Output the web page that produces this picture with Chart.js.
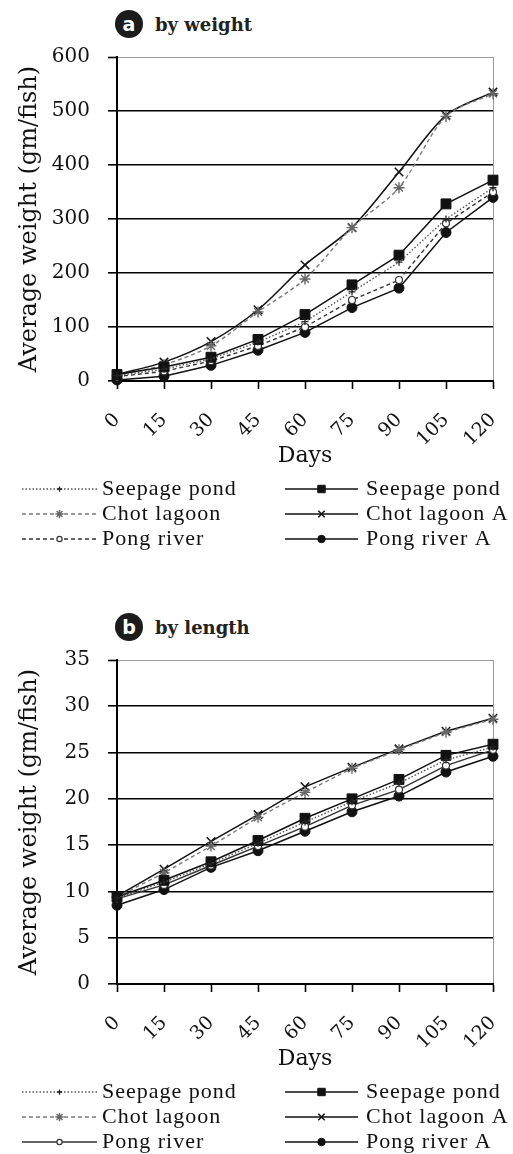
<!DOCTYPE html>
<html>
<head>
<meta charset="utf-8">
<script src="https://cdn.jsdelivr.net/npm/chart.js@4.4.1/dist/chart.umd.min.js"></script>
<style>
  html, body { margin: 0; padding: 0; background: #fff; }
  body { width: 513px; height: 1154px; position: relative; overflow: hidden; }
  .panel { position: absolute; left: 0; width: 513px; }
  .heading {
    position: absolute; left: 115px; height: 28px;
    display: flex; align-items: center;
    font: bold 18px "DejaVu Serif"; color: #222;
  }
  .badge {
    width: 28px; height: 28px; border-radius: 50%;
    background: #1c1c1c; color: #fff; margin-right: 12px;
    display: flex; align-items: center; justify-content: center;
    font: bold 19px "DejaVu Sans"; line-height: 1;
  }
</style>
</head>
<body>
  <div class="heading" style="top:10px"><span class="badge">a</span>by weight</div>
  <div class="panel" style="top:0; height:560px"><canvas id="chart-weight" width="513" height="560"></canvas></div>

  <div class="heading" style="top:613px"><span class="badge">b</span>by length</div>
  <div class="panel" style="top:603px; height:551px"><canvas id="chart-length" width="513" height="551"></canvas></div>

<script>
const days = ["0", "15", "30", "45", "60", "75", "90", "105", "120"];
const legendLabels = ["Seepage pond", "Seepage pond", "Chot lagoon", "Chot lagoon A", "Pong river", "Pong river A"];

// (a) by weight
const weightTicks = [0, 100, 200, 300, 400, 500, 600];
const seepageW  = [10, 22, 41, 72, 110, 165, 220, 300, 358];
const seepageAW = [12, 26, 44, 77, 123, 178, 233, 328, 372];
const chotW     = [10, 30, 65, 128, 189, 284, 358, 490, 532];
const chotAW    = [12, 35, 73, 132, 215, 284, 387, 492, 535];
const pongW     = [8, 18, 37, 65, 100, 150, 187, 292, 350];
const pongAW    = [2, 9, 29, 57, 90, 136, 172, 275, 340];

// (b) by length
const lengthTicks = [0, 5, 10, 15, 20, 25, 30, 35];
const seepageL  = [9.3, 11.0, 13.0, 15.2, 17.5, 19.7, 21.7, 24.2, 25.6];
const seepageAL = [9.4, 11.2, 13.2, 15.5, 17.9, 20.0, 22.1, 24.7, 25.9];
const chotL     = [9.4, 12.0, 14.9, 18.0, 20.7, 23.3, 25.3, 27.2, 28.6];
const chotAL    = [9.5, 12.4, 15.4, 18.3, 21.3, 23.4, 25.4, 27.3, 28.7];
const pongL     = [9.2, 10.7, 12.8, 14.9, 17.0, 19.3, 21.0, 23.6, 25.3];
const pongAL    = [8.5, 10.2, 12.6, 14.4, 16.5, 18.6, 20.3, 22.9, 24.6];

function buildDatasets(series, pongDashed, chotTension) {
  const common = { clip: 12, tension: 0 };
  return [
    { ...common, label: legendLabels[0], data: series[0], borderColor: "#555", borderWidth: 1.4, borderDash: [1.5, 2],
      pointStyle: "cross", pointRadius: 3.5, pointBorderColor: "#222", pointBackgroundColor: "#222", pointBorderWidth: 1.3 },
    { ...common, label: legendLabels[1], data: series[1], borderColor: "#111", borderWidth: 1.5,
      pointStyle: "rect", pointRadius: 7, pointBorderColor: "#111", pointBackgroundColor: "#111", pointBorderWidth: 1 },
    { ...common, label: legendLabels[2], data: series[2], borderColor: "#7a7a7a", borderWidth: 1.4, borderDash: [4, 3],
      pointStyle: "star", pointRadius: 5.5, pointBorderColor: "#666", pointBackgroundColor: "#666", pointBorderWidth: 1.4, tension: chotTension },
    { ...common, label: legendLabels[3], data: series[3], borderColor: "#111", borderWidth: 1.5,
      pointStyle: "crossRot", pointRadius: 6, pointBorderColor: "#111", pointBackgroundColor: "#111", pointBorderWidth: 1.5, tension: chotTension },
    { ...common, label: legendLabels[4], data: series[4], borderColor: "#333", borderWidth: 1.4, borderDash: pongDashed ? [4, 3] : [],
      pointStyle: "circle", pointRadius: 3.5, pointBorderColor: "#333", pointBackgroundColor: "#fff", pointBorderWidth: 1.2 },
    { ...common, label: legendLabels[5], data: series[5], borderColor: "#111", borderWidth: 1.5,
      pointStyle: "circle", pointRadius: 5, pointBorderColor: "#111", pointBackgroundColor: "#111", pointBorderWidth: 1 },
  ];
}

// legend in two columns under the x axis, drawn from the datasets
const pairLegend = {
  id: "pairLegend",
  afterDraw(chart) {
    const ctx = chart.ctx;
    const base = chart.chartArea.bottom;
    ctx.save();
    chart.data.datasets.forEach((ds, i) => {
      const row = Math.floor(i / 2), col = i % 2;
      const y = base + 108 + row * 25;
      const x0 = col ? 285 : 22, x1 = col ? 358 : 97;
      ctx.strokeStyle = ds.borderColor;
      ctx.lineWidth = ds.borderWidth;
      ctx.setLineDash(ds.borderDash || []);
      ctx.beginPath();
      ctx.moveTo(x0, y);
      ctx.lineTo(x1, y);
      ctx.stroke();
      ctx.setLineDash([]);
      ctx.fillStyle = ds.pointBackgroundColor;
      ctx.strokeStyle = ds.pointBorderColor;
      ctx.lineWidth = ds.pointBorderWidth;
      Chart.helpers.drawPoint(ctx, { pointStyle: ds.pointStyle, radius: ds.pointRadius * 0.75, borderWidth: ds.pointBorderWidth, rotation: 0 }, (x0 + x1) / 2, y);
      ctx.fillStyle = "#111";
      ctx.font = '22px "Liberation Serif"';
      ctx.letterSpacing = "1px";
      ctx.textBaseline = "middle";
      ctx.textAlign = "left";
      ctx.fillText(ds.label, col ? 366 : 102, y);
    });
    ctx.restore();
  },
};

function renderChart(canvasId, series, ticks, pongDashed, chotTension, bottomPad) {
  const el = document.getElementById(canvasId);
  const last = ticks[ticks.length - 1];
  new Chart(el, {
    type: "line",
    data: { labels: days, datasets: buildDatasets(series, pongDashed, chotTension) },
    options: {
      responsive: false,
      animation: false,
      devicePixelRatio: 1,
      layout: { padding: { top: 57, right: 20, left: 0, bottom: bottomPad } },
      plugins: { legend: { display: false }, tooltip: { enabled: false } },
      scales: {
        x: {
          offset: false,
          afterFit: (s) => { s.height = 92; s.paddingRight = 0; s.paddingLeft = 0; },
          border: { color: "#000", width: 2 },
          grid: {
            drawOnChartArea: true,
            color: (c) => (c.index === days.length - 1 ? "#9a9a9a" : "rgba(0,0,0,0)"),
            lineWidth: 1,
            tickColor: "#000",
            tickWidth: 1.6,
            tickLength: 8,
          },
          ticks: {
            autoSkip: false,
            minRotation: 45,
            maxRotation: 45,
            padding: 20,
            color: "#111",
            font: { family: "'DejaVu Serif'", size: 19 },
          },
          title: {
            display: true,
            text: "Days",
            color: "#111",
            padding: { top: 0, bottom: 4 },
            font: { family: "'DejaVu Serif'", size: 22 },
          },
        },
        y: {
          min: ticks[0],
          max: last,
          afterFit: (s) => { s.width = 117; s.paddingTop = 0; s.paddingBottom = 0; },
          afterBuildTicks: (s) => { s.ticks = ticks.map((v) => ({ value: v })); },
          border: { color: "#000", width: 2 },
          grid: {
            color: (c) => (c.tick && c.tick.value === last ? "#9a9a9a" : "#000"),
            lineWidth: (c) => (c.tick && c.tick.value === last ? 1 : 1.6),
            tickColor: "#000",
            tickWidth: 1.6,
            tickLength: 9,
          },
          ticks: {
            padding: 18,
            color: "#111",
            font: { family: "'DejaVu Serif'", size: 20 },
          },
          title: {
            display: true,
            text: "Average weight (gm/fish)",
            color: "#111",
            padding: { top: 15, bottom: 0 },
            font: { family: "'DejaVu Serif'", size: 24 },
          },
        },
      },
    },
    plugins: [pairLegend],
  });
}

renderChart("chart-weight", [seepageW, seepageAW, chotW, chotAW, pongW, pongAW], weightTicks, true, 0.3, 87);
renderChart("chart-length", [seepageL, seepageAL, chotL, chotAL, pongL, pongAL], lengthTicks, false, 0, 78);
</script>
</body>
</html>
